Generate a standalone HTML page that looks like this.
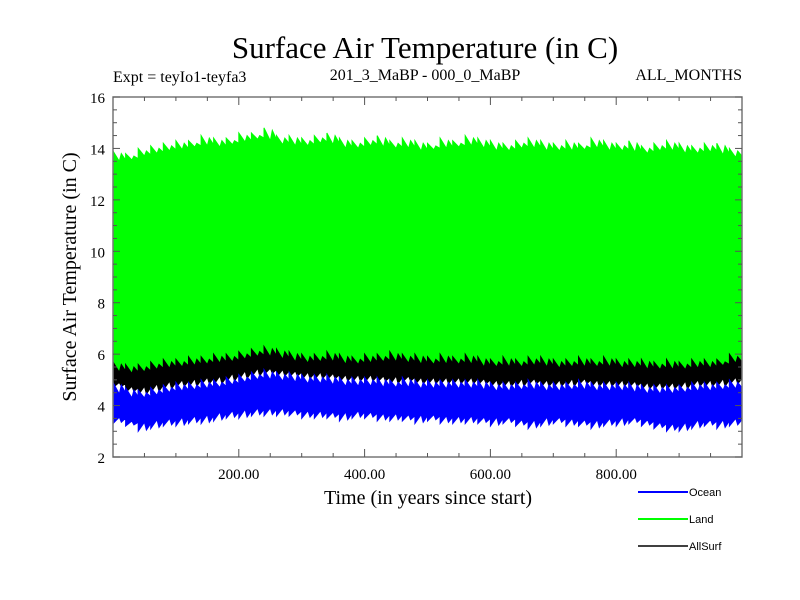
<!DOCTYPE html>
<html><head><meta charset="utf-8"><style>
html,body{margin:0;padding:0;background:#fff}
svg{display:block}
.serif{font-family:"Liberation Serif",serif;fill:#000}
.sans{font-family:"Liberation Sans",sans-serif;fill:#000}
</style></head><body>
<svg id="chart" width="800" height="600" viewBox="0 0 800 600">
<text class="serif" x="425" y="58" font-size="31" text-anchor="middle">Surface Air Temperature (in C)</text>
<text class="serif" x="113" y="82" font-size="16">Expt = teyIo1-teyfa3</text>
<text class="serif" x="425" y="80" font-size="16" text-anchor="middle">201_3_MaBP - 000_0_MaBP</text>
<text class="serif" x="742" y="80" font-size="16" text-anchor="end">ALL_MONTHS</text>
<g id="plot"></g>
<g id="axes"></g>
<text class="serif" x="428" y="504" font-size="20" text-anchor="middle">Time (in years since start)</text>
<text class="serif" transform="translate(76,277) rotate(-90)" font-size="20" text-anchor="middle">Surface Air Temperature (in C)</text>
<g>
<g><line x1="638" y1="492" x2="688" y2="492" stroke="#0000ff" stroke-width="2"/><text class="sans" x="689" y="496" font-size="11">Ocean</text></g>
<g><line x1="638" y1="519" x2="688" y2="519" stroke="#00ff00" stroke-width="2"/><text class="sans" x="689" y="523" font-size="11">Land</text></g>
<g><line x1="638" y1="546" x2="688" y2="546" stroke="#000" stroke-width="1.5"/><text class="sans" x="689" y="550" font-size="11">AllSurf</text></g>
</g>
</svg>
<script>
const years = [];
for (let i = 0; i < 50; i++) years.push(i * 20);
const landMax = [13.9,13.8,14.0,14.1,14.2,14.3,14.3,14.5,14.4,14.4,14.6,14.6,14.8,14.5,14.5,14.4,14.5,14.6,14.4,14.3,14.4,14.5,14.3,14.4,14.3,14.2,14.4,14.3,14.5,14.4,14.3,14.2,14.3,14.4,14.3,14.2,14.3,14.2,14.4,14.3,14.2,14.3,14.1,14.2,14.3,14.2,14.1,14.2,14.2,14.0];
const landMin = [5.0,4.8,5.0,5.1,5.1,5.2,5.1,5.2,5.3,5.4,5.5,5.5,5.6,5.5,5.4,5.4,5.3,5.4,5.3,5.2,5.3,5.3,5.2,5.2,5.2,5.1,5.2,5.2,5.1,5.2,5.1,5.1,5.0,5.1,5.1,5.0,5.1,5.0,5.0,5.1,5.0,5.0,4.9,5.0,5.0,4.9,4.9,5.0,5.0,5.0];
const allMax = [5.7,5.6,5.6,5.7,5.8,5.8,5.9,5.9,6.0,6.0,6.1,6.2,6.3,6.2,6.1,6.0,6.0,6.1,6.0,5.9,6.0,6.0,6.1,6.0,6.0,5.9,6.0,5.9,6.0,5.9,5.8,5.9,5.8,5.9,5.9,5.8,5.8,5.9,5.8,5.9,5.8,5.8,5.8,5.7,5.8,5.7,5.8,5.8,5.8,6.0];
const oceanMax = [4.9,4.7,4.6,4.7,4.8,4.9,4.9,5.0,5.0,5.1,5.2,5.3,5.4,5.3,5.3,5.2,5.2,5.2,5.1,5.1,5.1,5.1,5.0,5.1,5.0,5.0,5.0,5.0,5.0,5.0,4.9,4.9,4.9,5.0,4.9,4.9,4.9,5.0,4.9,4.9,4.9,4.9,4.8,4.8,4.8,4.8,4.9,4.9,4.9,5.0];
const oceanMin = [3.3,3.2,3.0,3.1,3.2,3.2,3.3,3.3,3.4,3.5,3.5,3.6,3.6,3.6,3.6,3.5,3.5,3.5,3.4,3.5,3.5,3.4,3.4,3.4,3.3,3.4,3.3,3.3,3.3,3.3,3.2,3.3,3.2,3.1,3.2,3.3,3.2,3.2,3.1,3.2,3.2,3.3,3.2,3.1,3.0,3.0,3.1,3.2,3.1,3.2];
const yTicks = [2,4,6,8,10,12,14,16];
const xTicks = [200,400,600,800];

const X0=113,X1=742,Y0=457,Y1=97, XMIN=0,XMAX=1000,YMIN=2,YMAX=16;
const sx = v => X0 + (v-XMIN)/(XMAX-XMIN)*(X1-X0);
const sy = v => Y0 - (v-YMIN)/(YMAX-YMIN)*(Y0-Y1);
const NS='http://www.w3.org/2000/svg';
const plot=document.getElementById('plot'), axes=document.getElementById('axes');
function mk(tag, attrs, parent){const e=document.createElementNS(NS,tag);for(const k in attrs)e.setAttribute(k,attrs[k]);parent.appendChild(e);return e;}

function band(upper, lower, color, name){
  const w=20;
  let up=[], lo=[];
  for(let i=0;i<years.length;i++){
    const xa=sx(years[i]), xb=sx(Math.min(years[i]+w,XMAX)), xm=(xa+xb)/2;
    const nu = i+1<upper.length ? upper[i+1] : upper[i];
    const nl = i+1<lower.length ? lower[i+1] : lower[i];
    up.push([xa,sy(upper[i])],[xm,sy((upper[i]+nu)/2-0.35)],[xm+2,sy(upper[i]-0.1)],[xb,sy((upper[i]+nu)/2-0.3)]);
    lo.push([xa,sy(lower[i])],[xm,sy((lower[i]+nl)/2+0.3)],[xm+2,sy(lower[i]+0.05)],[xb,sy((lower[i]+nl)/2+0.25)]);
  }
  const pts=up.concat(lo.reverse()).map(p=>p[0].toFixed(1)+','+p[1].toFixed(1)).join(' ');
  const p=mk('polygon',{points:pts,fill:color,stroke:color,'stroke-width':1},plot);
  
  
}
band(landMax, landMin, '#00ff00', 'land-series');
band(allMax, oceanMax.map(v=>v-0.2), '#000000', 'allsurf-series');
band(oceanMax, oceanMin, '#0000ff', 'ocean-series');

const frame=mk('rect',{x:X0,y:Y1,width:X1-X0,height:Y0-Y1,fill:'none',stroke:'#777','stroke-width':1.5},axes);


for(let v=YMIN; v<=YMAX; v+=0.5){
  const major = yTicks.includes(v);
  const L = major?7:4;
  mk('line',{x1:X0,y1:sy(v),x2:X0+L,y2:sy(v),stroke:'#555','stroke-width':1},axes);
  mk('line',{x1:X1,y1:sy(v),x2:X1-L,y2:sy(v),stroke:'#555','stroke-width':1},axes);
}
yTicks.forEach(v=>{
  const t=mk('text',{x:X0-8,y:sy(v)+6,'font-size':15,'text-anchor':'end',class:'serif'},axes);
  t.textContent=v;
  
  
});
for(let v=50; v<XMAX; v+=50){
  const major = xTicks.includes(v);
  const L = major?8:4;
  mk('line',{x1:sx(v),y1:Y0,x2:sx(v),y2:Y0-L,stroke:'#555','stroke-width':1},axes);
  mk('line',{x1:sx(v),y1:Y1,x2:sx(v),y2:Y1+L,stroke:'#555','stroke-width':1},axes);
}
xTicks.forEach(v=>{
  const t=mk('text',{x:sx(v),y:Y0+22,'font-size':15,'text-anchor':'middle',class:'serif'},axes);
  t.textContent=v.toFixed(2);
  
  
});
</script>
</body></html>
